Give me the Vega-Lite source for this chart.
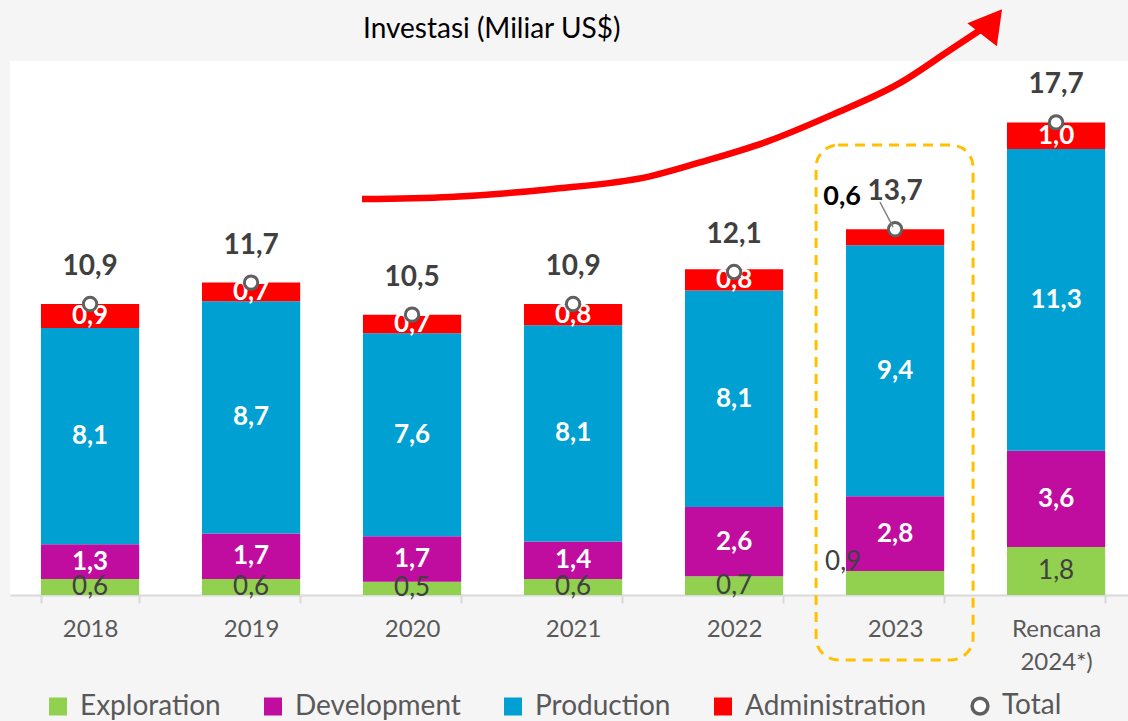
{
  "$schema": "https://vega.github.io/schema/vega-lite/v6.json",
  "width": 1118,
  "height": 534,
  "autosize": {"type": "none"},
  "padding": {"left": 10, "top": 61, "right": 0, "bottom": 126},
  "background": "#F6F5F6",
  "config": {
    "view": {"stroke": null, "fill": "#FFFFFF"},
    "locale": {"number": {"decimal": ",", "thousands": ".", "grouping": [3], "currency": ["", "$"]}},
    "axis": {
      "domainColor": "#D9D9D9", "domainWidth": 2, "tickColor": "#D9D9D9", "tickWidth": 2, "tickSize": 8,
      "labelFont": "Lato", "labelFontSize": 24, "labelColor": "#595959", "labelPadding": 14
    }
  },
  "title": {
    "text": "Investasi (Miliar US$)", "anchor": "start", "dx": 353, "offset": -57, "baseline": "alphabetic",
    "font": "Lato", "fontSize": 28, "fontWeight": 400, "color": "#000000"
  },
  "datasets": {
    "seg": [
      {"year": "2018", "cat": "Exploration", "ord": 1, "v": 0.6},
      {"year": "2018", "cat": "Development", "ord": 2, "v": 1.3},
      {"year": "2018", "cat": "Production", "ord": 3, "v": 8.1},
      {"year": "2018", "cat": "Administration", "ord": 4, "v": 0.9},
      {"year": "2019", "cat": "Exploration", "ord": 1, "v": 0.6},
      {"year": "2019", "cat": "Development", "ord": 2, "v": 1.7},
      {"year": "2019", "cat": "Production", "ord": 3, "v": 8.7},
      {"year": "2019", "cat": "Administration", "ord": 4, "v": 0.7},
      {"year": "2020", "cat": "Exploration", "ord": 1, "v": 0.5},
      {"year": "2020", "cat": "Development", "ord": 2, "v": 1.7},
      {"year": "2020", "cat": "Production", "ord": 3, "v": 7.6},
      {"year": "2020", "cat": "Administration", "ord": 4, "v": 0.7},
      {"year": "2021", "cat": "Exploration", "ord": 1, "v": 0.6},
      {"year": "2021", "cat": "Development", "ord": 2, "v": 1.4},
      {"year": "2021", "cat": "Production", "ord": 3, "v": 8.1},
      {"year": "2021", "cat": "Administration", "ord": 4, "v": 0.8},
      {"year": "2022", "cat": "Exploration", "ord": 1, "v": 0.7},
      {"year": "2022", "cat": "Development", "ord": 2, "v": 2.6},
      {"year": "2022", "cat": "Production", "ord": 3, "v": 8.1},
      {"year": "2022", "cat": "Administration", "ord": 4, "v": 0.8},
      {"year": "2023", "cat": "Exploration", "ord": 1, "v": 0.9},
      {"year": "2023", "cat": "Development", "ord": 2, "v": 2.8},
      {"year": "2023", "cat": "Production", "ord": 3, "v": 9.4},
      {"year": "2023", "cat": "Administration", "ord": 4, "v": 0.6},
      {"year": "Rencana 2024*)", "cat": "Exploration", "ord": 1, "v": 1.8},
      {"year": "Rencana 2024*)", "cat": "Development", "ord": 2, "v": 3.6},
      {"year": "Rencana 2024*)", "cat": "Production", "ord": 3, "v": 11.3},
      {"year": "Rencana 2024*)", "cat": "Administration", "ord": 4, "v": 1.0}
    ],
    "tot": [
      {"year": "2018", "total": 10.9},
      {"year": "2019", "total": 11.7},
      {"year": "2020", "total": 10.5},
      {"year": "2021", "total": 10.9},
      {"year": "2022", "total": 12.1},
      {"year": "2023", "total": 13.7},
      {"year": "Rencana 2024*)", "total": 17.7}
    ],
    "arrow": [
      {"u": 2.204, "v": 14.83},
      {"u": 2.755, "v": 14.91},
      {"u": 3.381, "v": 15.2},
      {"u": 4.007, "v": 15.68},
      {"u": 4.320, "v": 16.2},
      {"u": 4.740, "v": 16.98},
      {"u": 5.153, "v": 18.0},
      {"u": 5.573, "v": 19.18},
      {"u": 5.886, "v": 20.41},
      {"u": 6.085, "v": 21.2}
    ],
    "head": [{"u": 6.149, "v": 21.46}],
    "box": [{"u": 5.047, "u2": 6.030, "v": -2.43, "v2": 16.85}],
    "lead": [{"u": 5.447, "u2": 5.529, "v": 14.72, "v2": 13.78}]
  },
  "layer": [
    {
      "encoding": {
        "x": {
          "field": "year", "type": "nominal", "sort": null,
          "scale": {
            "domain": ["2018", "2019", "2020", "2021", "2022", "2023", "Rencana 2024*)"],
            "paddingInner": 0.39, "paddingOuter": 0.167, "align": 0.576
          },
          "axis": {
            "title": null, "labelAngle": 0, "tickBand": "extent", "labelLineHeight": 33,
            "labelExpr": "datum.value == 'Rencana 2024*)' ? ['Rencana', '2024*)'] : datum.label"
          }
        }
      },
      "layer": [
        {
          "data": {"name": "seg"},
          "transform": [
            {"stack": "v", "groupby": ["year"], "sort": [{"field": "ord", "order": "ascending"}], "as": ["y0", "y1"]}
          ],
          "mark": {"type": "bar"},
          "encoding": {
            "y": {"field": "y0", "type": "quantitative", "scale": {"domain": [0, 20], "nice": false}, "axis": null},
            "y2": {"field": "y1"},
            "color": {
              "field": "cat", "type": "nominal",
              "scale": {
                "domain": ["Exploration", "Development", "Production", "Administration", "Total"],
                "range": ["#92D050", "#C00DA0", "#00A0D2", "#FF0000", "#FFFFFF"]
              },
              "legend": {
                "orient": "none", "legendX": 34, "legendY": 631, "direction": "horizontal", "title": null,
                "labelFont": "Lato", "labelFontSize": 28, "labelColor": "#595959", "symbolSize": 324,
                "symbolType": "square", "columnPadding": 38, "labelOffset": 8, "padding": 0, "labelLimit": 400,
                "symbolOpacity": 1,
                "encode": {
                  "symbols": {
                    "update": {
                      "shape": {"signal": "datum.value === 'Total' ? 'circle' : 'square'"},
                      "size": {"signal": "datum.value === 'Total' ? 250 : 324"},
                      "stroke": {"signal": "datum.value === 'Total' ? '#606060' : 'transparent'"},
                      "strokeWidth": {"signal": "datum.value === 'Total' ? 3.5 : 0"}
                    }
                  }
                }
              }
            }
          }
        },
        {
          "data": {"name": "seg"},
          "transform": [
            {"stack": "v", "groupby": ["year"], "sort": [{"field": "ord", "order": "ascending"}], "as": ["y0", "y1"]},
            {"calculate": "(datum.y0 + datum.y1) / 2", "as": "mid"},
            {"filter": "datum.cat !== 'Exploration' && !(datum.year === '2023' && datum.cat === 'Administration')"}
          ],
          "mark": {"type": "text", "font": "Lato", "fontSize": 26, "fontWeight": "bold", "color": "#FFFFFF", "baseline": "middle"},
          "encoding": {
            "y": {"field": "mid", "type": "quantitative", "scale": {"domain": [0, 20], "nice": false}, "axis": null},
            "text": {"field": "v", "type": "quantitative", "format": ".1f"}
          }
        },
        {
          "data": {"name": "seg"},
          "transform": [
            {"stack": "v", "groupby": ["year"], "sort": [{"field": "ord", "order": "ascending"}], "as": ["y0", "y1"]},
            {"calculate": "(datum.y0 + datum.y1) / 2", "as": "mid"},
            {"filter": "datum.cat === 'Exploration' && datum.year !== '2023'"}
          ],
          "mark": {"type": "text", "font": "Lato", "fontSize": 26, "fontWeight": "normal", "color": "#404040", "baseline": "middle"},
          "encoding": {
            "y": {"field": "mid", "type": "quantitative", "scale": {"domain": [0, 20], "nice": false}, "axis": null},
            "text": {"field": "v", "type": "quantitative", "format": ".1f"}
          }
        },
        {
          "data": {"name": "seg"},
          "transform": [
            {"stack": "v", "groupby": ["year"], "sort": [{"field": "ord", "order": "ascending"}], "as": ["y0", "y1"]},
            {"calculate": "(datum.y0 + datum.y1) / 2", "as": "mid"},
            {"filter": "datum.cat === 'Exploration' && datum.year === '2023'"}
          ],
          "mark": {"type": "text", "font": "Lato", "fontSize": 26, "fontWeight": "normal", "color": "#404040", "baseline": "middle", "dx": -52, "dy": -21},
          "encoding": {
            "y": {"field": "mid", "type": "quantitative", "scale": {"domain": [0, 20], "nice": false}, "axis": null},
            "text": {"field": "v", "type": "quantitative", "format": ".1f"}
          }
        },
        {
          "data": {"name": "seg"},
          "transform": [
            {"stack": "v", "groupby": ["year"], "sort": [{"field": "ord", "order": "ascending"}], "as": ["y0", "y1"]},
            {"filter": "datum.cat === 'Administration' && datum.year === '2023'"}
          ],
          "mark": {"type": "text", "font": "Lato", "fontSize": 27, "fontWeight": "bold", "color": "#000000", "baseline": "middle", "dx": -53, "dy": -32},
          "encoding": {
            "y": {"field": "y1", "type": "quantitative", "scale": {"domain": [0, 20], "nice": false}, "axis": null},
            "text": {"field": "v", "type": "quantitative", "format": ".1f"}
          }
        },
        {
          "data": {"name": "tot"},
          "mark": {"type": "point", "shape": "circle", "filled": true, "fill": "#FFFFFF", "stroke": "#606060", "strokeWidth": 3, "size": 180, "opacity": 1},
          "encoding": {
            "y": {"field": "total", "type": "quantitative", "scale": {"domain": [0, 20], "nice": false}, "axis": null}
          }
        },
        {
          "data": {"name": "tot"},
          "mark": {"type": "text", "font": "Lato", "fontSize": 28, "fontWeight": "bold", "color": "#404040", "baseline": "middle", "dy": -37},
          "encoding": {
            "y": {"field": "total", "type": "quantitative", "scale": {"domain": [0, 20], "nice": false}, "axis": null},
            "text": {"field": "total", "type": "quantitative", "format": ".1f"}
          }
        }
      ]
    },
    {
      "layer": [
        {
          "data": {"name": "box"},
          "mark": {"type": "rect", "fill": "transparent", "stroke": "#FFC000", "strokeWidth": 3, "strokeDash": [10, 7], "cornerRadius": 22},
          "encoding": {
            "x": {"field": "u", "type": "quantitative", "scale": {"domain": [0, 7], "nice": false, "zero": false}, "axis": null},
            "x2": {"field": "u2"},
            "y": {"field": "v", "type": "quantitative", "scale": {"domain": [0, 20], "nice": false}, "axis": null},
            "y2": {"field": "v2"}
          }
        },
        {
          "data": {"name": "lead"},
          "mark": {"type": "rule", "color": "#808080", "strokeWidth": 1.5},
          "encoding": {
            "x": {"field": "u", "type": "quantitative", "scale": {"domain": [0, 7], "nice": false, "zero": false}, "axis": null},
            "x2": {"field": "u2"},
            "y": {"field": "v", "type": "quantitative", "scale": {"domain": [0, 20], "nice": false}, "axis": null},
            "y2": {"field": "v2"}
          }
        },
        {
          "data": {"name": "arrow"},
          "mark": {"type": "line", "color": "#FF0000", "strokeWidth": 6.5, "interpolate": "monotone", "strokeCap": "butt"},
          "encoding": {
            "x": {"field": "u", "type": "quantitative", "scale": {"domain": [0, 7], "nice": false, "zero": false}, "axis": null},
            "y": {"field": "v", "type": "quantitative", "scale": {"domain": [0, 20], "nice": false}, "axis": null}
          }
        },
        {
          "data": {"name": "head"},
          "mark": {"type": "point", "shape": "triangle-up", "filled": true, "color": "#FF0000", "size": 1400, "angle": 38, "opacity": 1},
          "encoding": {
            "x": {"field": "u", "type": "quantitative", "scale": {"domain": [0, 7], "nice": false, "zero": false}, "axis": null},
            "y": {"field": "v", "type": "quantitative", "scale": {"domain": [0, 20], "nice": false}, "axis": null}
          }
        }
      ]
    }
  ],
  "resolve": {"scale": {"x": "independent"}}
}
